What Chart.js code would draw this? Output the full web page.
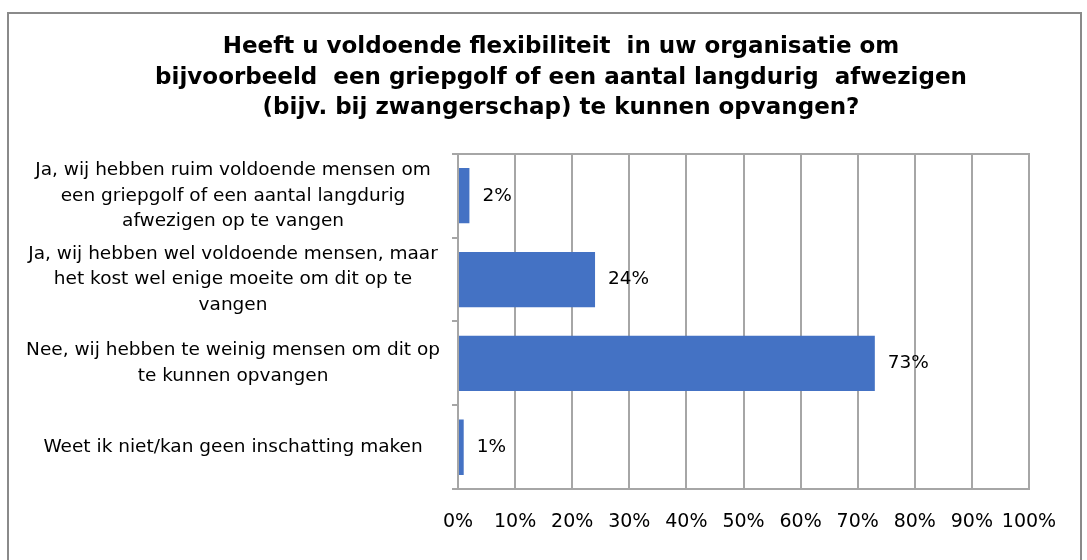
<!DOCTYPE html>
<html>
<head>
<meta charset="utf-8">
<script src="https://cdn.jsdelivr.net/npm/chart.js@4"></script>
<style>
  html, body { margin: 0; padding: 0; background: #fff; overflow: hidden; }
  #frame {
    position: absolute; left: 7px; top: 12px;
    width: 1071px; height: 620px;
    border: 2px solid #8a8a8a; background: #fff;
  }
  #wrap { position: absolute; left: 0; top: 0; width: 1104px; height: 554px; }
</style>
</head>
<body>
<div id="frame"><div id="wrap"><canvas id="chart"></canvas></div></div>
<script>
// answers (multi-line as in the original chart)
const categories = [
  ["Ja, wij hebben ruim voldoende mensen om", "een griepgolf of een aantal langdurig", "afwezigen op te vangen"],
  ["Ja, wij hebben wel voldoende mensen, maar", "het kost wel enige moeite om dit op te", "vangen"],
  ["Nee, wij hebben te weinig mensen om dit op", "te kunnen opvangen"],
  "Weet ik niet/kan geen inschatting maken"
]
const shares = [2, 24, 73, 1]
const valueLabels = ["2%", "24%", "73%", "1%"]
const titleLines = [
  "Heeft u voldoende flexibiliteit  in uw organisatie om",
  "bijvoorbeeld  een griepgolf of een aantal langdurig  afwezigen",
  "(bijv. bij zwangerschap) te kunnen opvangen?"
]

const fontFamily = "'DejaVu Sans', Verdana, sans-serif"
const gridColor = "#a6a6a6"

// draws the % next to each bar
const barValues = {
  id: "barValues",
  afterDatasetsDraw(chart) {
    const ctx = chart.ctx
    const meta = chart.getDatasetMeta(0)
    ctx.save()
    ctx.font = "18.5px " + fontFamily
    ctx.fillStyle = "#000"
    ctx.textAlign = "left"
    ctx.textBaseline = "middle"
    meta.data.forEach((bar, i) => {
      ctx.fillText(valueLabels[i], bar.x + 13, bar.y)
    })
    ctx.restore()
  }
}

new Chart(document.getElementById("chart"), {
  type: "bar",
  data: {
    labels: categories,
    datasets: [{
      data: shares,
      backgroundColor: "#4472C4",
      borderWidth: 0,
      barPercentage: 0.66,
      categoryPercentage: 1
    }]
  },
  plugins: [barValues],
  options: {
    indexAxis: "y",
    responsive: true,
    maintainAspectRatio: false,
    animation: false,
    layout: { padding: { left: 0, right: 0, top: 0, bottom: 14 } },
    plugins: {
      legend: { display: false },
      tooltip: { enabled: false },
      title: {
        display: true,
        text: titleLines,
        color: "#000",
        font: { family: fontFamily, size: 23, weight: "bold", lineHeight: 1.33 },
        padding: { top: 18, bottom: 30 }
      }
    },
    scales: {
      x: {
        min: 0,
        max: 100,
        ticks: {
          stepSize: 10,
          autoSkip: false,
          padding: 21,
          color: "#000",
          maxRotation: 0,
          font: { family: fontFamily, size: 19 },
          callback: (v) => v + "%"
        },
        grid: { color: gridColor, lineWidth: 2, drawTicks: false },
        border: { display: true, color: gridColor, width: 2 }
      },
      // top edge of the plot frame
      xTop: {
        position: "top",
        min: 0,
        max: 100,
        ticks: { display: false },
        grid: { display: false, drawTicks: false },
        border: { display: true, color: gridColor, width: 2 }
      },
      y: {
        afterFit: (scale) => { scale.width = 449 },
        ticks: {
          autoSkip: false,
          crossAlign: "center",
          padding: 12,
          color: "#000",
          font: { family: fontFamily, size: 18.5, lineHeight: 1.38 }
        },
        grid: { offset: true, drawOnChartArea: false, drawTicks: true, tickLength: 6, color: gridColor, lineWidth: 2 },
        border: { display: true, color: gridColor, width: 2 }
      },
      // empty space right of the plot (keeps the title where it was)
      ySpace: {
        axis: "y",
        type: "linear",
        position: "right",
        afterFit: (scale) => { scale.width = 84 },
        ticks: { display: false },
        grid: { display: false, drawTicks: false },
        border: { display: false }
      }
    }
  }
})
</script>
</body>
</html>
